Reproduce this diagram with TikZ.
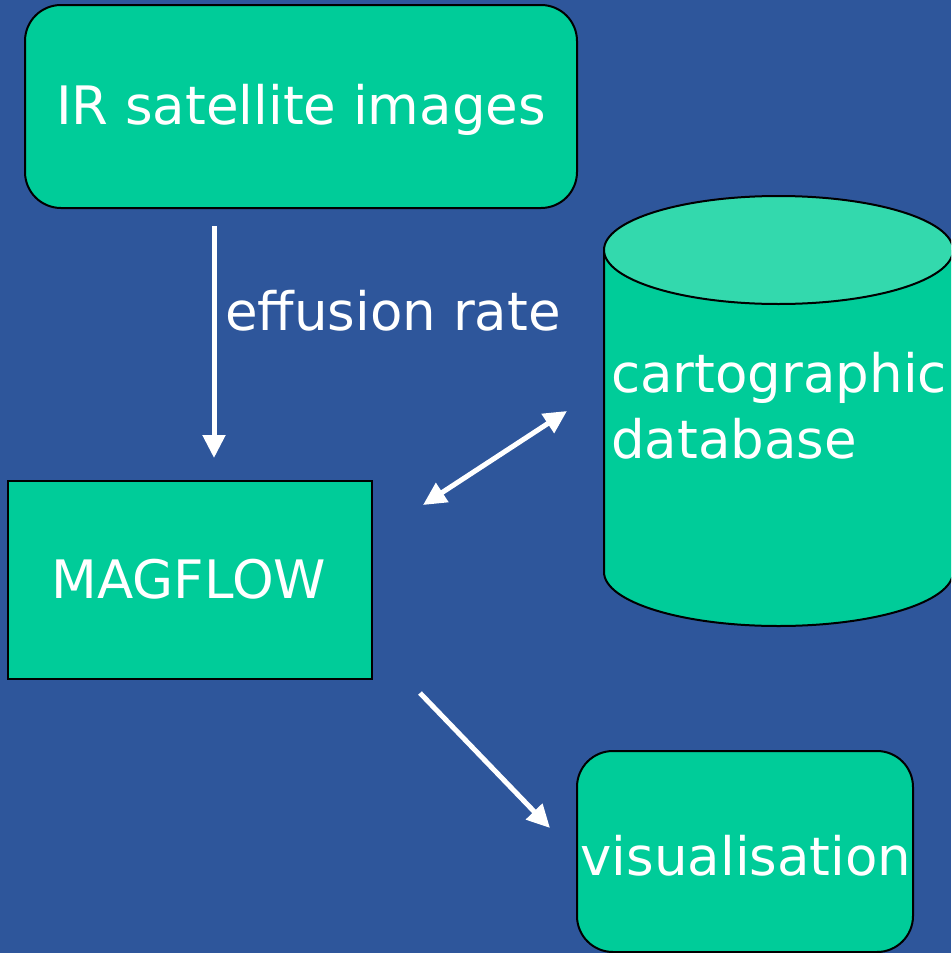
\documentclass[tikz,border=0pt]{standalone}
\usepackage{fontspec}
\setmainfont{DejaVu Sans}
\usetikzlibrary{arrows.meta}
\definecolor{bg}{HTML}{2E569B}
\definecolor{boxg}{HTML}{00CC99}
\definecolor{topg}{HTML}{33D9AD}
\tikzset{
  lbl/.style={text=white, font=\fontsize{53}{64}\selectfont, inner sep=0pt},
  rbox/.style={draw=black, line width=2pt, fill=boxg, rounded corners=36pt, inner sep=0pt},
  sbox/.style={draw=black, line width=2pt, fill=boxg, inner sep=0pt},
  conn/.style={draw=white, line width=5pt, -{Triangle[length=23pt,width=22pt]}},
  dconn/.style={draw=white, line width=5pt, {Triangle[length=23pt,width=22pt]}-{Triangle[length=23pt,width=22pt]}}
}
\begin{document}
\begin{tikzpicture}[x=1pt,y=-1pt]
\fill[bg] (0,0) rectangle (951,953);
\useasboundingbox (0,0) rectangle (951,953);
\clip (0,0) rectangle (951,953);
% boxes
\node[rbox, minimum width=552pt, minimum height=203pt] (ir) at (301,106.5) {};
\node[lbl, anchor=base] (irt) at (301,124) {IR satellite images};
\node[sbox, minimum width=364pt, minimum height=198pt] (mag) at (190,580) {};
\node[lbl, anchor=base] (magt) at (189,598) {MAGFLOW};
\node[rbox, minimum width=336pt, minimum height=201pt] (vis) at (745,851.5) {};
\node[lbl, anchor=base] (vist) at (746,875) {visualisation};
% cylinder
\fill[boxg] (604,250) -- (604,572) arc[start angle=180, end angle=360, x radius=174.5, y radius=-54] -- (953,250) -- cycle;
\draw[black, line width=2pt] (604,250) -- (604,572) arc[start angle=180, end angle=360, x radius=174.5, y radius=-54] -- (953,250);
\draw[black, line width=2pt, fill=topg] (778.5,250) ellipse[x radius=174.5, y radius=54];
\node[lbl, anchor=base west] (cart1) at (611,392) {cartographic};
\node[lbl, anchor=base west] (cart2) at (611,458) {database};
% connectors
\coordinate (a1) at (214,226);
\coordinate (a2) at (214,458);
\coordinate (b1) at (423,505);
\coordinate (b2) at (567,411);
\coordinate (c1) at (420,693);
\coordinate (c2) at (550,828);
\draw[conn] (a1) -- (a2);
\draw[dconn] (b1) -- (b2);
\draw[conn] (c1) -- (c2);
\node[lbl, anchor=base west] (eff) at (225,330) {effusion rate};
\end{tikzpicture}
\end{document}
